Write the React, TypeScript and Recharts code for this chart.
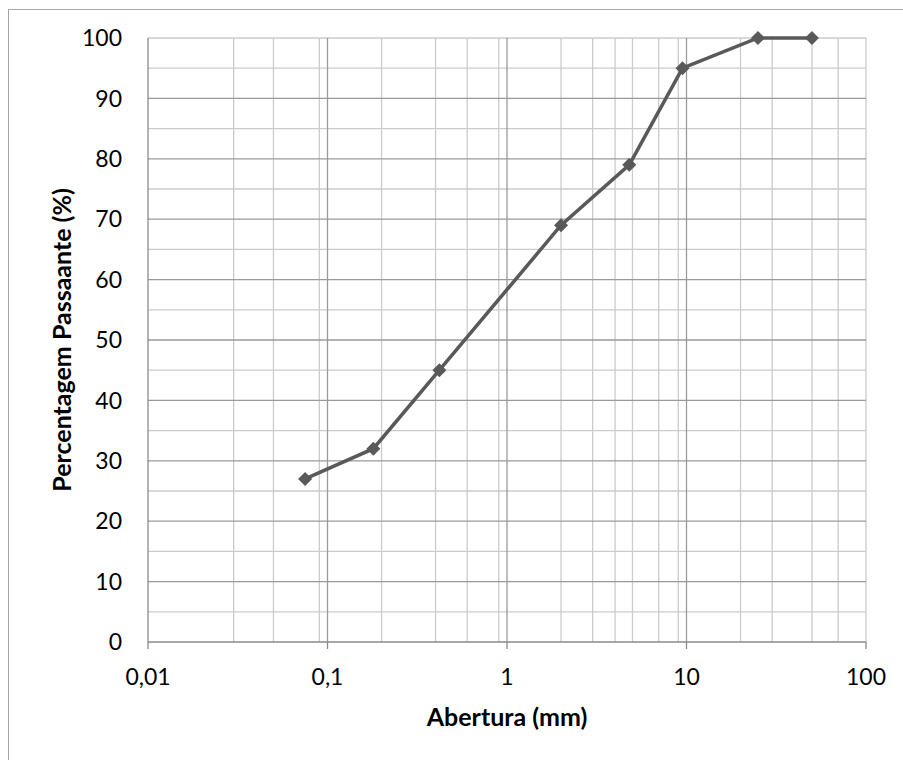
import { LineChart, Line, XAxis, YAxis, CartesianGrid } from 'recharts';

const sieve = [0.075, 0.18, 0.42, 2, 4.8, 9.5, 25, 50];
const passing = [27, 32, 45, 69, 79, 95, 100, 100];
const xTicks = [0.01, 0.1, 1, 10, 100];
const yTicks = [0, 10, 20, 30, 40, 50, 60, 70, 80, 90, 100];

const decades = [0.01, 0.1, 1, 10];
const steps = [2, 3, 4, 5, 6, 7, 8, 9];
const minorX = decades.flatMap((d) => steps.map((s) => +(d * s).toPrecision(3)));
const minorY = [5, 15, 25, 35, 45, 55, 65, 75, 85, 95, 100];

const data = sieve.map((x, i) => ({ x, y: passing[i] }));

const font = 'Lato, "Open Sans", sans-serif';

const Diamond = (props: any) => {
  const { cx, cy } = props;
  if (cx == null || cy == null) return null;
  const r = 7;
  return (
    <path
      d={`M${cx},${cy - r} L${cx + r},${cy} L${cx},${cy + r} L${cx - r},${cy} Z`}
      fill="#595959"
    />
  );
};

const XTitle = (props: any) => {
  const { viewBox } = props;
  return (
    <text
      x={viewBox.x + viewBox.width / 2}
      y={726}
      textAnchor="middle"
      fontFamily={font}
      fontWeight="bold"
      fontSize={25}
      fill="#000"
    >
      Abertura (mm)
    </text>
  );
};

const YTitle = (props: any) => {
  const { viewBox } = props;
  const x = 71;
  const y = viewBox.y + viewBox.height / 2;
  return (
    <text
      x={x}
      y={y}
      transform={`rotate(-90, ${x}, ${y})`}
      textAnchor="middle"
      fontFamily={font}
      fontWeight="bold"
      fontSize={25}
      fill="#000"
    >
      Percentagem Passaante (%)
    </text>
  );
};

export default function App() {
  return (
    <div style={{ position: 'absolute', left: 0, top: 0, width: 903, height: 760, background: '#fff' }}>
      <div
        style={{
          position: 'absolute',
          left: 8,
          top: 9,
          width: 895,
          height: 751,
          borderLeft: '1px solid #a6a6a6',
          borderTop: '1px solid #a6a6a6',
          boxSizing: 'border-box',
        }}
      />
      <LineChart
        width={903}
        height={760}
        data={data}
        margin={{ top: 38, right: 37, left: 48, bottom: 28 }}
        style={{ position: 'absolute', left: 0, top: 0 }}
      >
        <CartesianGrid
          stroke="#cbcbcb"
          strokeWidth={1.3}
          verticalValues={minorX.concat([100])}
          horizontalValues={minorY}
        />
        <CartesianGrid
          stroke="#9a9a9a"
          strokeWidth={1.3}
          verticalValues={[0.1, 1, 10]}
          horizontalValues={[10, 20, 30, 40, 50, 60, 70, 80, 90]}
        />
        <XAxis
          dataKey="x"
          type="number"
          scale="log"
          domain={[0.01, 100]}
          allowDataOverflow
          ticks={xTicks}
          tickFormatter={(v: number) => String(v).replace('.', ',')}
          height={90}
          tickSize={7}
          tickMargin={20}
          stroke="#8a8a8a"
          strokeWidth={1.3}
          tick={{ fill: '#000', fontSize: 23, fontFamily: font }}
          label={<XTitle />}
        />
        <YAxis
          type="number"
          domain={[0, 100]}
          ticks={yTicks}
          width={100}
          tickLine={false}
          tickSize={0}
          tickMargin={26}
          stroke="#8a8a8a"
          strokeWidth={1.3}
          tick={{ fill: '#000', fontSize: 23, fontFamily: font }}
          label={<YTitle />}
        />
        <Line
          dataKey="y"
          stroke="#595959"
          strokeWidth={3.5}
          dot={<Diamond />}
          activeDot={false}
          isAnimationActive={false}
        />
      </LineChart>
    </div>
  );
}
